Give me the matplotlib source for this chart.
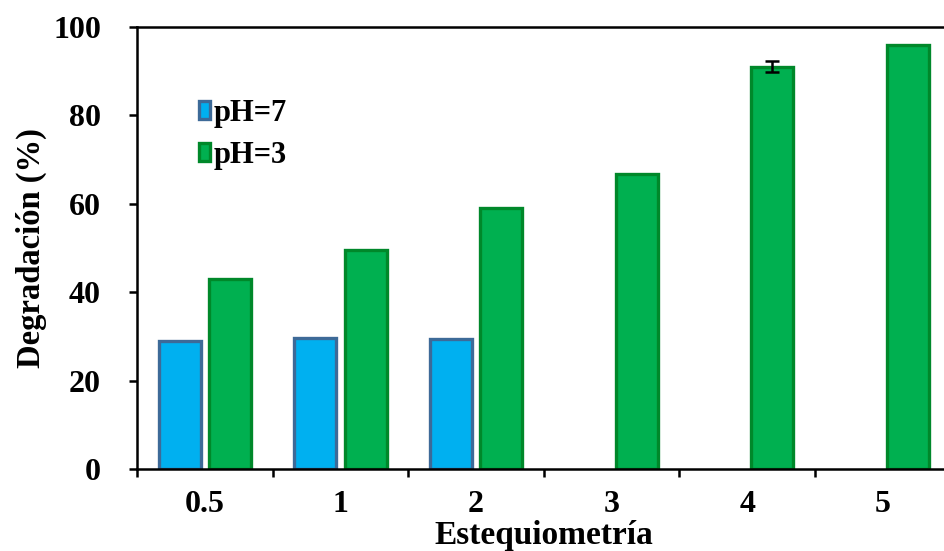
import matplotlib.pyplot as plt
import numpy as np

plt.rcParams['font.family'] = ['Liberation Serif', 'DejaVu Serif']
plt.rcParams['font.weight'] = 'bold'

categories = ['0.5', '1', '2', '3', '4', '5']
ph7 = [29.0, 29.6, 29.3, np.nan, np.nan, np.nan]
ph3 = [43.0, 49.5, 59.0, 66.7, 91.0, 95.9]
ph3_err = [0, 0, 0, 0, 1.2, 0]

x = np.arange(len(categories))
width = 0.31

fig = plt.figure(figsize=(9.45, 5.51), dpi=100)
ax = fig.add_axes([0.145, 0.149, 0.861, 0.802])

ax.bar(x - 0.185, ph7, width, color='#00B0F0', edgecolor='#3D6A98',
       linewidth=2.4, label='pH=7')
ax.bar(x + 0.185, ph3, width, color='#00B050', edgecolor='#00882A',
       linewidth=2.4, label='pH=3')
err_x = [xi + 0.185 for xi, e in zip(x, ph3_err) if e > 0]
err_y = [v for v, e in zip(ph3, ph3_err) if e > 0]
err_v = [e for e in ph3_err if e > 0]
ax.errorbar(err_x, err_y, yerr=err_v, fmt='none', ecolor='black',
            elinewidth=1.8, capsize=4.8, capthick=1.8)

ax.set_xlim(-0.5, 5.5)
ax.set_ylim(0, 100)
ax.set_yticks(np.arange(0, 101, 20))
ax.set_xticks(x)
ax.set_xticklabels(categories)
ax.set_xticks(np.arange(-0.5, 6, 1), minor=True)
ax.tick_params(axis='x', which='major', length=0, labelsize=23, pad=15)
ax.tick_params(axis='x', which='minor', length=6, width=1.8, direction='out')
ax.tick_params(axis='y', length=6, width=1.8, labelsize=23, pad=20)

for s in ['left', 'top', 'bottom']:
    ax.spines[s].set_linewidth(1.8)
ax.spines['right'].set_visible(False)

ax.set_xlabel('Estequiometría', fontsize=24, fontweight='bold', labelpad=1)
ax.set_ylabel('Degradación (%)', fontsize=23.5, fontweight='bold', labelpad=4)

ax.legend(loc='upper left', bbox_to_anchor=(0.042, 0.9), frameon=False,
          fontsize=22, handlelength=0.38, handleheight=0.55, handletextpad=0.12,
          labelspacing=0.42)

fig.savefig('out.png', dpi=100)
